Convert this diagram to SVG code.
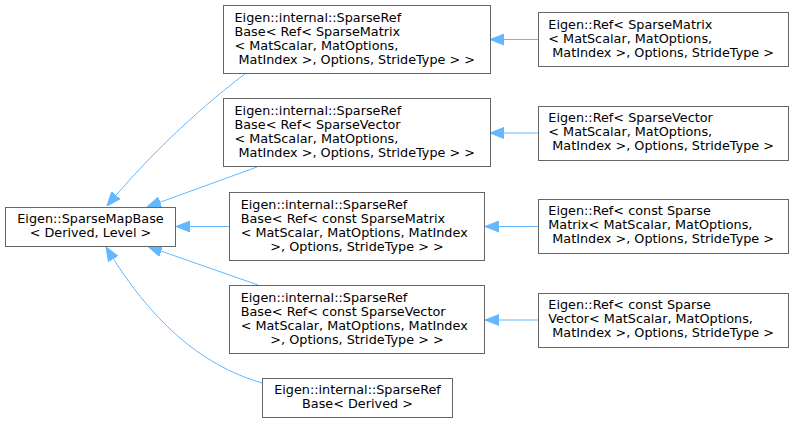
<svg xmlns="http://www.w3.org/2000/svg" width="795" height="424" viewBox="0 0 795 424">
<style>
.box{fill:#ffffff;stroke:#666666;stroke-width:1}
text{font-family:"DejaVu Sans",sans-serif;font-size:12.8px;fill:#000000}
.c{text-anchor:middle}
.e{fill:none;stroke:#63b8ff;stroke-width:1;marker-end:url(#ah)}
</style>
<defs>
<marker id="ah" markerUnits="userSpaceOnUse" markerWidth="14" markerHeight="12" refX="14" refY="6" orient="auto">
<path d="M0,0.5 L14,6 L0,11.5 z" fill="#63b8ff" stroke="#63b8ff" stroke-width="1"/>
</marker>
</defs>
<rect width="795" height="424" fill="#ffffff"/>
<g id="connectors">
<path class="e" d="M245,74 C210,100 155,148 107,206"/>
<path class="e" d="M257,167 L147,207"/>
<path class="e" d="M229,226.5 L176,226.5"/>
<path class="e" d="M258,285 L148,246.5"/>
<path class="e" d="M262,383 C200,365 150,320 106,247"/>
<path class="e" d="M538,39.5 L490,39.5"/>
<path class="e" d="M538,133 L490,133"/>
<path class="e" d="M538,226.5 L485,226.5"/>
<path class="e" d="M538,320 L485,320"/>
</g>
<g id="n_sparsemapbase">
<rect class="box" x="5.5" y="207.5" width="170" height="39"/>
<text class="c" x="90.5" y="222.5">Eigen::SparseMapBase</text>
<text class="c" x="90.5" y="236.5">&lt; Derived, Level &gt;</text>
</g>
<g id="n_refbase_matrix">
<rect class="box" x="223.5" y="5.5" width="267" height="68"/>
<text x="234.5" y="22">Eigen::internal::SparseRef</text>
<text x="234.5" y="36">Base&lt; Ref&lt; SparseMatrix</text>
<text x="234.5" y="50">&lt; MatScalar, MatOptions,</text>
<text x="238.5" y="64">MatIndex &gt;, Options, StrideType &gt; &gt;</text>
</g>
<g id="n_refbase_vector">
<rect class="box" x="223.5" y="98.5" width="267" height="68"/>
<text x="234.5" y="115">Eigen::internal::SparseRef</text>
<text x="234.5" y="129">Base&lt; Ref&lt; SparseVector</text>
<text x="234.5" y="143">&lt; MatScalar, MatOptions,</text>
<text x="238.5" y="157">MatIndex &gt;, Options, StrideType &gt; &gt;</text>
</g>
<g id="n_refbase_cmatrix">
<rect class="box" x="229.5" y="192.5" width="255" height="68"/>
<text x="240.7" y="209">Eigen::internal::SparseRef</text>
<text x="240.7" y="223">Base&lt; Ref&lt; const SparseMatrix</text>
<text x="240.7" y="237">&lt; MatScalar, MatOptions, MatIndex</text>
<text class="c" x="357" y="251">&gt;, Options, StrideType &gt; &gt;</text>
</g>
<g id="n_refbase_cvector">
<rect class="box" x="229.5" y="285.5" width="255" height="68"/>
<text x="240.7" y="302">Eigen::internal::SparseRef</text>
<text x="240.7" y="316">Base&lt; Ref&lt; const SparseVector</text>
<text x="240.7" y="330">&lt; MatScalar, MatOptions, MatIndex</text>
<text class="c" x="357" y="344">&gt;, Options, StrideType &gt; &gt;</text>
</g>
<g id="n_refbase_derived">
<rect class="box" x="262.5" y="378.5" width="190" height="39"/>
<text class="c" x="357.5" y="394">Eigen::internal::SparseRef</text>
<text class="c" x="357.5" y="408">Base&lt; Derived &gt;</text>
</g>
<g id="n_ref_matrix">
<rect class="box" x="538.5" y="12.5" width="250" height="54"/>
<text x="548.3" y="28.5">Eigen::Ref&lt; SparseMatrix</text>
<text x="548.3" y="42.5">&lt; MatScalar, MatOptions,</text>
<text x="552.3" y="56.5">MatIndex &gt;, Options, StrideType &gt;</text>
</g>
<g id="n_ref_vector">
<rect class="box" x="538.5" y="106.5" width="250" height="54"/>
<text x="548.3" y="122">Eigen::Ref&lt; SparseVector</text>
<text x="548.3" y="136">&lt; MatScalar, MatOptions,</text>
<text x="552.3" y="150">MatIndex &gt;, Options, StrideType &gt;</text>
</g>
<g id="n_ref_cmatrix">
<rect class="box" x="538.5" y="199.5" width="250" height="54"/>
<text x="548.3" y="215">Eigen::Ref&lt; const Sparse</text>
<text x="548.3" y="229">Matrix&lt; MatScalar, MatOptions,</text>
<text x="552.3" y="243">MatIndex &gt;, Options, StrideType &gt;</text>
</g>
<g id="n_ref_cvector">
<rect class="box" x="538.5" y="293.5" width="250" height="54"/>
<text x="548.3" y="309">Eigen::Ref&lt; const Sparse</text>
<text x="548.3" y="323">Vector&lt; MatScalar, MatOptions,</text>
<text x="552.3" y="337">MatIndex &gt;, Options, StrideType &gt;</text>
</g>
</svg>
